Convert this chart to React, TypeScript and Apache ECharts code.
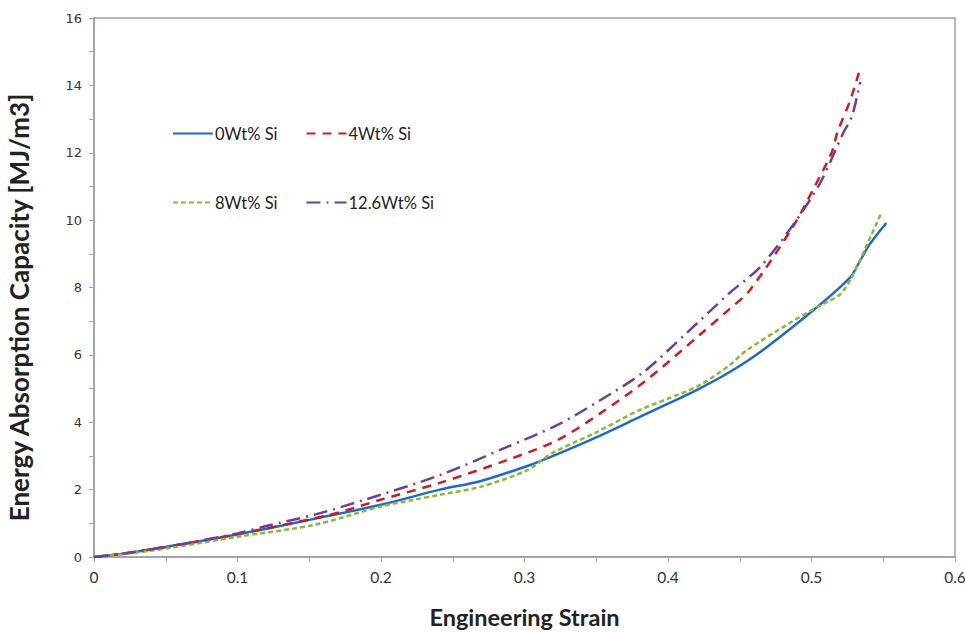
import React, { useEffect, useRef } from "react";
import * as echarts from "echarts";

const seriesNames = ["0Wt% Si", "4Wt% Si", "8Wt% Si", "12.6Wt% Si"];

const strain0 = [0, 0.02, 0.05, 0.1, 0.153, 0.2, 0.241, 0.269, 0.302, 0.32, 0.35, 0.38, 0.4, 0.422, 0.443, 0.466, 0.504, 0.527, 0.532, 0.54, 0.548, 0.551, 0.552];
const energy0 = [0, 0.1, 0.3, 0.67, 1.13, 1.55, 2.0, 2.25, 2.7, 3.0, 3.55, 4.15, 4.55, 5.0, 5.49, 6.14, 7.42, 8.3, 8.65, 9.25, 9.7, 9.85, 9.92];

const strain4 = [0, 0.02, 0.05, 0.1, 0.164, 0.199, 0.241, 0.288, 0.323, 0.353, 0.385, 0.422, 0.442, 0.457, 0.487, 0.501, 0.514, 0.518, 0.527, 0.533];
const energy4 = [0, 0.1, 0.3, 0.68, 1.25, 1.69, 2.2, 2.88, 3.47, 4.27, 5.25, 6.59, 7.33, 7.92, 9.8, 10.9, 12.0, 12.6, 13.56, 14.37];

const strain8 = [0, 0.02, 0.05, 0.1, 0.153, 0.2, 0.222, 0.241, 0.269, 0.302, 0.32, 0.35, 0.38, 0.4, 0.422, 0.443, 0.455, 0.485, 0.504, 0.51, 0.52, 0.528, 0.54, 0.549];
const energy8 = [0, 0.08, 0.25, 0.6, 0.95, 1.5, 1.69, 1.85, 2.08, 2.58, 3.1, 3.7, 4.36, 4.7, 5.1, 5.7, 6.14, 6.95, 7.42, 7.55, 7.8, 8.3, 9.4, 10.25];

const strain12 = [0, 0.02, 0.05, 0.1, 0.12, 0.153, 0.188, 0.241, 0.288, 0.323, 0.353, 0.383, 0.413, 0.443, 0.464, 0.487, 0.506, 0.522, 0.528, 0.534];
const energy12 = [0, 0.1, 0.3, 0.7, 0.92, 1.25, 1.69, 2.43, 3.27, 3.92, 4.66, 5.49, 6.65, 7.84, 8.6, 9.85, 11.1, 12.58, 13.06, 14.1];

const xTicks = { min: 0, max: 0.6, interval: 0.1 };
const yTicks = { min: 0, max: 16, interval: 2 };

const pair = (xs: number[], ys: number[]) => xs.map((x, i) => [x, ys[i]]);

const FONT = "Lato, 'Open Sans', sans-serif";

export default function App() {
  const ref = useRef<HTMLDivElement>(null);
  useEffect(() => {
    if (!ref.current) return;
    const chart = echarts.init(ref.current, null, { renderer: "svg" });
    const styles = [
      { color: "#1F6BC4", type: "solid" as any, width: 2.5 },
      { color: "#C81E23", type: [9, 7] as any, width: 2.5 },
      { color: "#8CB83A", type: [5, 3] as any, width: 2.5 },
      { color: "#6B3FA0", type: [14, 6, 2, 6] as any, width: 2.5 },
    ];
    const datas = [pair(strain0, energy0), pair(strain4, energy4), pair(strain8, energy8), pair(strain12, energy12)];
    const axisGray = "#A0A0A0";
    const legendBase = {
      left: 167, itemWidth: 40, itemHeight: 12, itemGap: 28,
      itemStyle: { opacity: 0 },
      textStyle: { fontFamily: FONT, fontSize: 16.5, color: "#222", padding: [0, 0, 0, -3] },
    };
    chart.setOption({
      animation: false,
      backgroundColor: "#ffffff",
      grid: {
        left: 94, right: 10, top: 18, bottom: 75,
        show: true, borderColor: axisGray, borderWidth: 1.5,
        containLabel: false, outerBoundsMode: "none",
      },
      legend: [
        { ...legendBase, data: [seriesNames[0], seriesNames[1]], top: 120 },
        { ...legendBase, data: [seriesNames[2], seriesNames[3]], top: 189 },
      ],
      xAxis: {
        type: "value",
        min: xTicks.min, max: xTicks.max, interval: xTicks.interval,
        name: "Engineering Strain",
        nameLocation: "middle",
        nameGap: 48,
        nameTextStyle: { fontFamily: FONT, fontSize: 23.5, fontWeight: "bold", color: "#222" },
        axisLine: { show: true, lineStyle: { color: axisGray, width: 1.5 } },
        axisTick: { show: true, length: 5, lineStyle: { color: axisGray } },
        minorTick: { show: true, splitNumber: 2, length: 5, lineStyle: { color: axisGray } },
        splitLine: { show: false },
        axisLabel: { fontFamily: FONT, fontSize: 15.5, color: "#333", margin: 12 },
      },
      yAxis: {
        type: "value",
        min: yTicks.min, max: yTicks.max, interval: yTicks.interval,
        name: "Energy Absorption Capacity [MJ/m3]",
        nameLocation: "middle",
        nameGap: 62,
        nameTextStyle: { fontFamily: FONT, fontSize: 26, fontWeight: "bold", color: "#222", padding: [0, 40, 0, 0] },
        axisLine: { show: true, lineStyle: { color: axisGray, width: 1.5 } },
        axisTick: { show: true, length: 5, lineStyle: { color: axisGray } },
        minorTick: { show: true, splitNumber: 2, length: 5, lineStyle: { color: axisGray } },
        splitLine: { show: false },
        axisLabel: { fontFamily: "'DejaVu Sans', sans-serif", fontSize: 13, color: "#333", margin: 12 },
      },
      series: seriesNames.map((name, i) => ({
        name,
        type: "line",
        data: datas[i],
        showSymbol: false,
        symbol: "none",
        smooth: 0.3,
        color: styles[i].color,
        lineStyle: styles[i],
      })),
    });
    return () => chart.dispose();
  }, []);
  return <div ref={ref} style={{ position: "absolute", left: 0, top: 0, width: 965, height: 632 }} />;
}
